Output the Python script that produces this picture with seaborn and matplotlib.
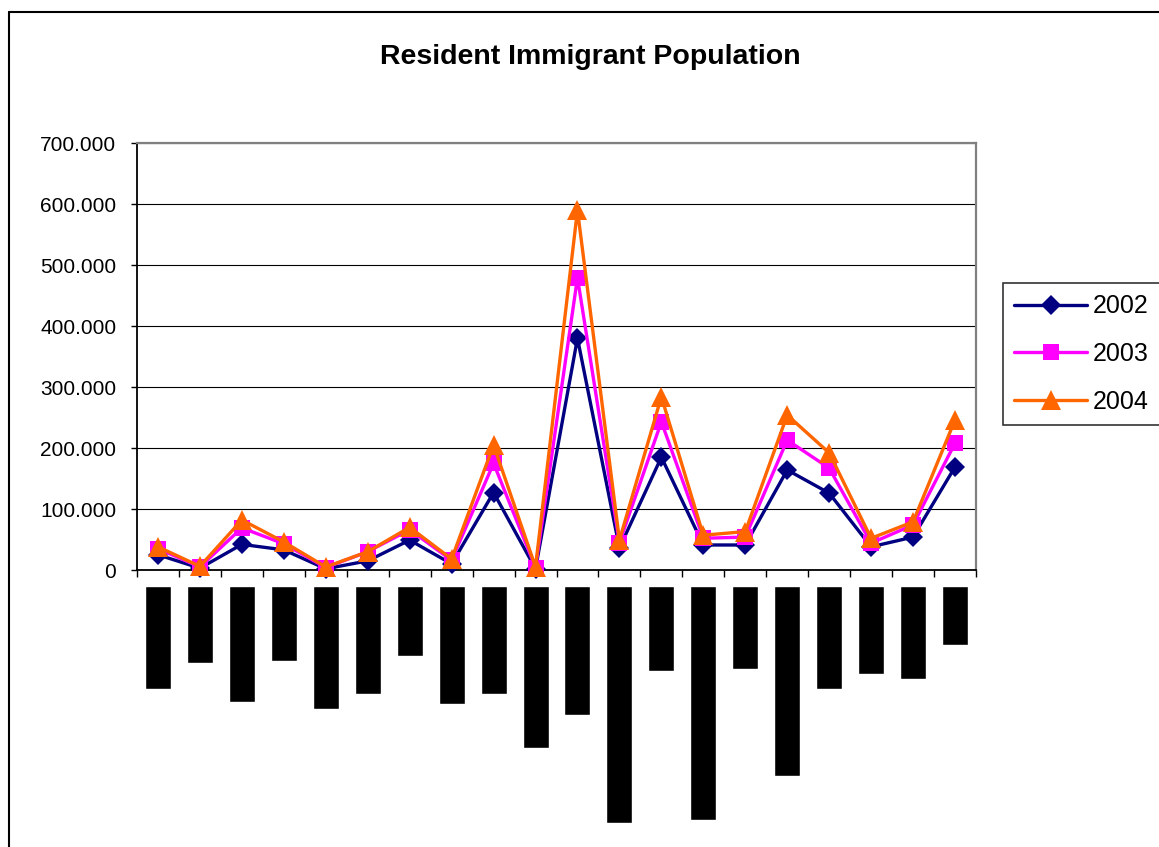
import matplotlib
matplotlib.use("Agg")
import matplotlib.pyplot as plt
from matplotlib.lines import Line2D
from matplotlib.ticker import FuncFormatter
import seaborn as sns
import numpy as np
import pandas as pd

# category positions (labels in the source are blacked out)
categories = list(range(1, 21))

pop_2002 = [25, 3, 42, 33, 2, 15, 49, 10, 127, 2, 380, 36, 185, 41, 41, 164, 126, 38, 54, 169]
pop_2003 = [35, 5, 69, 43, 4, 30, 66, 16, 175, 4, 479, 45, 243, 52, 54, 213, 167, 44, 74, 208]
pop_2004 = [38, 6, 82, 46, 5, 30, 70, 18, 205, 5, 590, 49, 284, 57, 63, 254, 192, 52, 79, 246]

# length (px) of the redacted category label blocks under the axis
label_lengths = [103, 77, 116, 75, 123, 108, 70, 118, 108, 162,
                 129, 237, 85, 234, 83, 190, 103, 88, 93, 59]

years = ["2002", "2003", "2004"]
colors = {"2002": "#000080", "2003": "#FF00FF", "2004": "#FF6600"}
markers = {"2002": "D", "2003": "s", "2004": "^"}
msizes = {"2002": 10.5, "2003": 11, "2004": 14}

df = pd.DataFrame({
    "cat": categories * 3,
    "value": pop_2002 + pop_2003 + pop_2004,
    "year": [y for y in years for _ in categories],
})
df["pos"] = df["cat"] - 1

sns.set_theme(style="white")
plt.rcParams["font.family"] = ["Liberation Sans", "DejaVu Sans"]
plt.rcParams["text.color"] = "black"

W, H = 1159, 847
fig = plt.figure(figsize=(W / 100, H / 100), dpi=100)

# main plot area: x 137..976, y 143..570 (px)
ax = fig.add_axes([137 / W, 1 - 570 / H, 839 / W, 427 / H])
for yr in years:
    sub = df[df["year"] == yr]
    sns.lineplot(data=sub, x="pos", y="value", ax=ax, color=colors[yr],
                 marker=markers[yr], markersize=msizes[yr], markeredgewidth=0,
                 linewidth=2.4, label=yr, clip_on=False, zorder=3)

ax.set_xlim(-0.5, 19.5)
ax.set_ylim(0, 700)
ax.set_yticks(np.arange(0, 701, 100))
ax.yaxis.set_major_formatter(FuncFormatter(lambda v, p: "0" if v == 0 else f"{int(v)}.000"))
ax.set_xticks(np.arange(-0.5, 20, 1))
ax.set_xticklabels([])
ax.set_xlabel("")
ax.set_ylabel("")
ax.grid(axis="y", color="black", linewidth=0.8)
ax.tick_params(axis="y", direction="out", length=4, width=1, color="black",
               left=True, pad=11, labelsize=15, labelcolor="black")
ax.tick_params(axis="x", direction="out", length=5, width=1, color="black", bottom=True)
for side in ["left", "bottom"]:
    ax.spines[side].set_color("black")
    ax.spines[side].set_linewidth(1.3)
for side in ["top", "right"]:
    ax.spines[side].set_color("#808080")
    ax.spines[side].set_linewidth(1.6)

leg = ax.legend(loc="upper left", bbox_to_anchor=(1003 / W, 1 - 283 / H),
                bbox_transform=fig.transFigure, fontsize=18, frameon=True,
                fancybox=False, edgecolor="black", handlelength=2.9,
                handletextpad=0.25, labelspacing=0.95, borderpad=0.45,
                borderaxespad=0)
leg.get_frame().set_linewidth(1.2)
for t in leg.get_texts():
    t.set_color("black")

# blacked-out category labels below the axis
ax2 = fig.add_axes([137 / W, 0, 839 / W, (H - 586) / H])
sns.barplot(x=np.arange(20), y=[-v for v in label_lengths], color="black",
            width=0.62, ax=ax2, saturation=1)
ax2.set_xlim(-0.5, 19.5)
ax2.set_ylim(-(H - 586), 0)
ax2.axis("off")

fig.text(590 / W, 1 - 57 / H, "Resident Immigrant Population", ha="center",
         va="center", fontsize=20.5, fontweight="bold", color="black")

# outer chart border (left and top edges visible)
fig.add_artist(Line2D([9 / W, 9 / W], [0, 1 - 12 / H], color="black", linewidth=1.5,
                      transform=fig.transFigure))
fig.add_artist(Line2D([9 / W, 1], [1 - 12 / H, 1 - 12 / H], color="black", linewidth=1.5,
                      transform=fig.transFigure))

fig.savefig("out.png", dpi=100)
